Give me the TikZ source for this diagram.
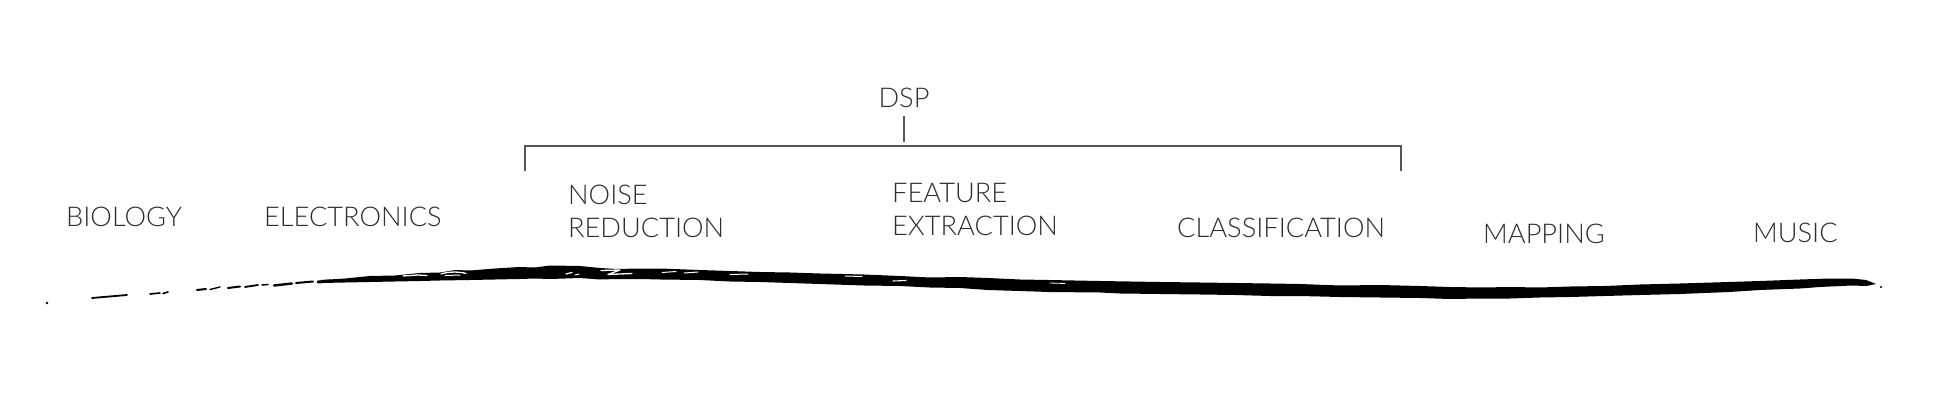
\documentclass[tikz,border=0pt]{standalone}
\usepackage{fontspec}
\IfFontExistsTF{Lato Light}{\setmainfont{Lato Light}}{\setmainfont{Lato}}
\definecolor{txtgray}{HTML}{2E2E2E}
\definecolor{linegray}{HTML}{555555}
\begin{document}
\begin{tikzpicture}[x=1pt,y=-1pt,
  lbl/.style={inner sep=0pt, text=txtgray, font=\fontsize{27.2}{33}\selectfont, align=left},
  brk/.style={draw=linegray, line width=1.2pt},
  ink/.style={fill=black, draw=none},
  crack/.style={draw=white, line width=1.3pt, line cap=round, line join=round},
  dab/.style={draw=black, line cap=round}]
\useasboundingbox (0,0) rectangle (1936,404);
\fill[white] (0,0) rectangle (1936,404);

% labels
\node[lbl, anchor=base] (dsp) at (904,107) {DSP};
\node[lbl, anchor=base west] (bio) at (66,226) {BIOLOGY};
\node[lbl, anchor=base west] (ele) at (264,226) {ELECTRONICS};
\node[lbl, anchor=north west] (noise) at (568,185) {NOISE\\REDUCTION};
\node[lbl, anchor=north west] (feat) at (892,183) {FEATURE\\EXTRACTION};
\node[lbl, anchor=base west] (cls) at (1177,237) {CLASSIFICATION};
\node[lbl, anchor=base west] (map) at (1483,243) {MAPPING};
\node[lbl, anchor=base west] (mus) at (1753,242) {MUSIC};

% bracket
\coordinate (tickT) at (904,116);
\coordinate (tickB) at (904,142);
\coordinate (bl) at (525,171);
\coordinate (blt) at (525,146);
\coordinate (brt) at (1401,146);
\coordinate (br) at (1401,171);
\draw[brk] (tickT) -- (tickB);
\draw[brk] (bl) -- (blt) -- (brt) -- (br);

% brush stroke
\fill[ink] (321,280) -- (345,278.5) -- (370,276) -- (395,275.5) -- (420,273) -- (440,272.5) -- (455,270) -- (470,270.5) -- (495,268.5) -- (519,267) -- (535,267.5) -- (550,265.5) -- (580,266) -- (600,268) -- (617,269) -- (640,268.5) -- (660,268.5) -- (700,270) -- (730,271) -- (760,272) -- (790,272.5) -- (820,273.5) -- (864,274.5) -- (900,276) -- (930,277.5) -- (960,277) -- (988,278) -- (1020,279.5) -- (1049,280) -- (1100,281) -- (1160,282) -- (1200,282.5) -- (1235,283) -- (1270,283.5) -- (1300,284) -- (1340,285.5) -- (1380,285) -- (1420,286) -- (1450,287) -- (1482,287.5) -- (1510,287) -- (1540,287.5) -- (1570,286.5) -- (1605,286) -- (1640,284.5) -- (1680,283.5) -- (1729,282) -- (1760,281) -- (1800,279.5) -- (1830,278.5) -- (1852,278.5) -- (1866,280) -- (1876,284)
 -- (1866,286) -- (1852,285.5) -- (1820,287) -- (1800,288.5) -- (1760,290) -- (1729,292) -- (1680,294) -- (1640,295) -- (1605,296) -- (1570,297) -- (1540,297.5) -- (1510,298.5) -- (1482,298.5) -- (1450,299) -- (1420,298) -- (1380,297.5) -- (1340,297) -- (1300,296) -- (1270,296) -- (1235,295) -- (1200,294.5) -- (1160,294) -- (1120,293.5) -- (1100,292.5) -- (1049,292) -- (1020,291) -- (988,290) -- (960,288) -- (930,287.5) -- (900,286) -- (864,285.5) -- (820,284) -- (790,283) -- (760,282) -- (730,281.5) -- (700,280) -- (660,279.5) -- (640,279) -- (617,279) -- (600,279.5) -- (580,278) -- (550,279) -- (535,278.5) -- (519,279) -- (495,279.5) -- (470,280) -- (440,280.5) -- (420,281) -- (395,281.5) -- (370,282) -- (345,282.5) -- (321,283) -- cycle;
\fill[ink] (1881,287) circle (1.2);

% white cracks in the stroke (left part)
\draw[crack] (403,276) -- (418,275) -- (427,275.5);
\draw[crack] (441,274) .. controls (448,271.5) and (460,271.5) .. (466,273.5);
\draw[crack, line width=1pt] (445,275.5) -- (460,275);
\draw[crack] (566,274) -- (572,272.5);
\draw[crack, line width=1pt] (575,275) -- (579,274);
\draw[crack] (601,270.5) -- (620,270) -- (608,274.5) -- (632,273.5);
\draw[crack, line width=1pt] (662,272.5) -- (676,271.5);
\draw[crack, line width=1pt] (684,273) -- (698,272);
\draw[crack, line width=1pt] (730,274.5) -- (748,274);
\draw[crack, line width=1pt] (845,276) -- (862,276.5);
\draw[crack, line width=1.1pt] (893,281) -- (906,280.5);
\draw[crack, line width=0.8pt] (1050,283) -- (1065,283.5);

% faint dashes on the left
\fill[ink] (47,303) circle (1.3);
\draw[dab, line width=1.8pt] (92,298) -- (127,295);
\draw[dab, line width=1.6pt] (150,294) -- (160,293);
\draw[dab, line width=1.6pt] (163,293.5) -- (168,292);
\draw[dab, line width=2pt] (197,290) -- (206,289);
\draw[dab, line width=1.4pt] (210,289.5) -- (220,287);
\draw[dab, line width=2pt] (228,288) -- (240,286.5);
\draw[dab, line width=1.8pt] (245,287) -- (258,285);
\draw[dab, line width=1.5pt] (262,285) -- (268,284.5);
\draw[dab, line width=2.4pt] (274,285.5) -- (292,283.5);
\draw[dab, line width=2pt] (296,283) -- (313,281.5);
\draw[dab, line width=3pt] (318,282) -- (330,281);
\end{tikzpicture}
\end{document}
